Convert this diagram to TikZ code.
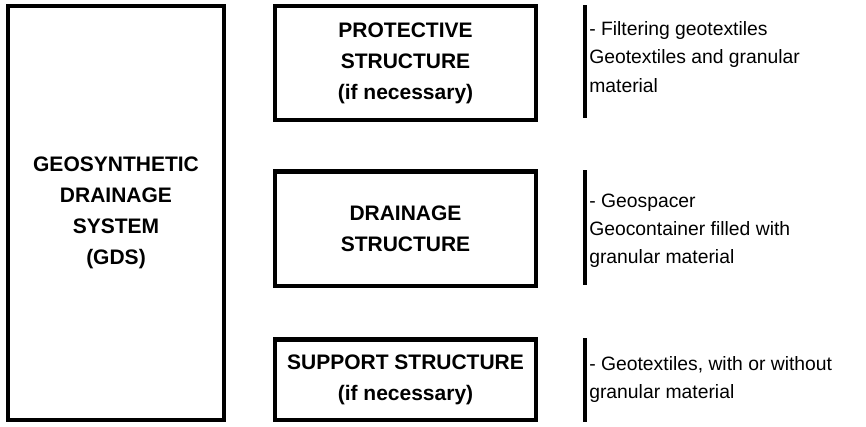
\documentclass[tikz,border=0pt]{standalone}
\usepackage{fontspec}
\setmainfont{Liberation Sans}
\newlength\pxu
\setlength\pxu{0.75pt}
\begin{document}
\begin{tikzpicture}[x=\pxu,y=-\pxu,
  box/.style={draw=black,line width=3.2pt,rectangle,inner sep=0pt,align=center,
    font=\bfseries\fontsize{15.75}{23.2}\selectfont},
  bar/.style={draw=black,line width=3.2pt},
  desc/.style={anchor=base west,inner sep=0pt,font=\fontsize{14.5}{17}\selectfont}]
\useasboundingbox[fill=white] (0,0) rectangle (866,426);

\node[box,minimum width=216.5\pxu,minimum height=414\pxu] (gds) at (116,213)
  {GEOSYNTHETIC\\DRAINAGE\\SYSTEM\\(GDS)};
\node[box,minimum width=261\pxu,minimum height=114\pxu] (prot) at (405.5,63)
  {PROTECTIVE\\STRUCTURE\\(if necessary)};
\node[box,minimum width=261\pxu,minimum height=114.5\pxu] (drain) at (405.5,228.75)
  {DRAINAGE\\STRUCTURE};
\node[box,minimum width=261\pxu,minimum height=80.5\pxu] (supp) at (405.5,379.75)
  {SUPPORT STRUCTURE\\(if necessary)};

\coordinate (b1t) at (585,5);   \coordinate (b1b) at (585,118);
\coordinate (b2t) at (585,170); \coordinate (b2b) at (585,285);
\coordinate (b3t) at (585,338); \coordinate (b3b) at (585,422);
\draw[bar] (b1t) -- (b1b);
\draw[bar] (b2t) -- (b2b);
\draw[bar] (b3t) -- (b3b);

\node[desc] (t11) at (589,35) {- Filtering geotextiles};
\node[desc] (t12) at (589,63) {Geotextiles and granular};
\node[desc] (t13) at (589,92) {material};
\node[desc] (t21) at (589,207) {- Geospacer};
\node[desc] (t22) at (589,235) {Geocontainer filled with};
\node[desc] (t23) at (589,263) {granular material};
\node[desc] (t31) at (589,370) {- Geotextiles, with or without};
\node[desc] (t32) at (589,398) {granular material};
\end{tikzpicture}
\end{document}
